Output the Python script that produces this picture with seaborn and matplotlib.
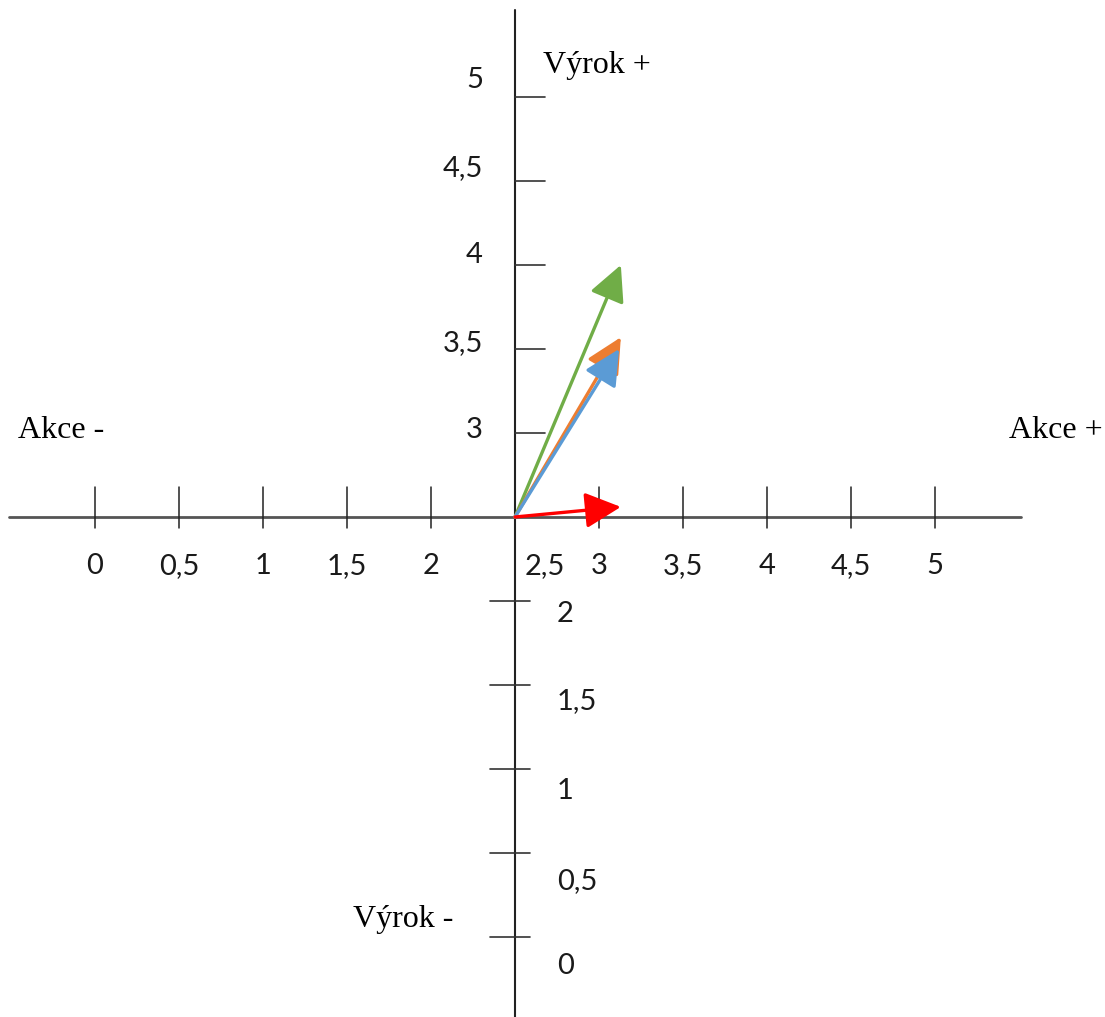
import numpy as np
import pandas as pd
import seaborn as sns
import matplotlib.pyplot as plt

sns.set_theme(style="white")

# Axis values (horizontal = Akce, vertical = Výrok), origin sits at 2.5 / 2.5
x_ticks = [0, 0.5, 1, 1.5, 2, 2.5, 3, 3.5, 4, 4.5, 5]
x_labels = ["0", "0,5", "1", "1,5", "2", "2,5", "3", "3,5", "4", "4,5", "5"]
y_ticks_up = [3, 3.5, 4, 4.5, 5]
y_labels_up = ["3", "3,5", "4", "4,5", "5"]
y_ticks_down = [0, 0.5, 1, 1.5, 2]
y_labels_down = ["0", "0,5", "1", "1,5", "2"]
origin = (2.5, 2.5)

# Arrow end points
series = ["zelená", "oranžová", "modrá", "červená"]
end_x = [3.13, 3.13, 3.12, 3.13]
end_y = [4.0, 3.57, 3.5, 2.56]
colors = ["#70AD47", "#ED7D31", "#5B9BD5", "#FF0000"]

df = pd.DataFrame({"series": series, "x": end_x, "y": end_y})

PX = 168.0  # pixels per unit
fig = plt.figure(figsize=(11.05, 10.17), dpi=100)
ax = fig.add_axes([0, 0, 1, 1])
ax.set_xlim(-95 / PX, 1010 / PX)
ax.set_ylim(-80 / PX, 937 / PX)
ax.axis("off")

num_font = dict(fontsize=21, family="Lato", color="#1a1a1a")

# main axes lines
ax.plot([-0.51, 5.51], [origin[1], origin[1]], color="#555555", lw=2.0, zorder=1)
ax.plot([origin[0], origin[0]], [-0.48, 5.52], color="#222222", lw=1.5, zorder=1)

# horizontal ticks + labels
for xv, lab in zip(x_ticks, x_labels):
    ax.plot([xv, xv], [origin[1] - 11 / PX, origin[1] + 30 / PX], color="#222222", lw=1.1, zorder=1)
    dx = 30 / PX if lab == "2,5" else 0.0
    ax.text(xv + dx, origin[1] - 49 / PX, lab, ha="center", va="center", **num_font)

# upper vertical ticks (to the right of axis), labels on the left
up_shift = [3, 6, 10, 13, 17]  # px, the labels drift upward in the original
for yv, lab, s in zip(y_ticks_up, y_labels_up, up_shift):
    ax.plot([origin[0], origin[0] + 30 / PX], [yv, yv], color="#333333", lw=1.2, zorder=1)
    ax.text(origin[0] - 32 / PX, yv + s / PX, lab, ha="right", va="center", **num_font)

# lower vertical ticks (crossing axis), labels on the right
down_shift = [29, 28, 22, 16, 13]  # px below each tick
for yv, lab, s in zip(y_ticks_down, y_labels_down, down_shift):
    ax.plot([origin[0] - 25 / PX, origin[0] + 15 / PX], [yv, yv], color="#333333", lw=1.2, zorder=1)
    ax.text(origin[0] + 42 / PX, yv - s / PX, lab, ha="left", va="center", **num_font)

# arrows
for (_, row), c in zip(df.iterrows(), colors):
    ax.annotate("", xy=(row["x"], row["y"]), xytext=origin,
                arrowprops=dict(arrowstyle="-|>,head_length=1.0,head_width=0.5",
                                color=c, lw=2.4, mutation_scale=22,
                                shrinkA=0, shrinkB=0), zorder=3)

# axis names
serif = dict(fontsize=23, family="Liberation Serif", color="black")
ax.text((18 - 95) / PX, 2.5 + 87 / PX, "Akce -", ha="left", va="center", **serif)
ax.text((1103 - 95) / PX, 2.5 + 87 / PX, "Akce +", ha="right", va="center", **serif)
ax.text(2.5 + 28 / PX, 2.5 + 452 / PX, "Výrok +", ha="left", va="center", **serif)
ax.text(2.5 - 62 / PX, 2.5 - 403 / PX, "Výrok -", ha="right", va="center", **serif)

fig.savefig("out.png", dpi=100)
